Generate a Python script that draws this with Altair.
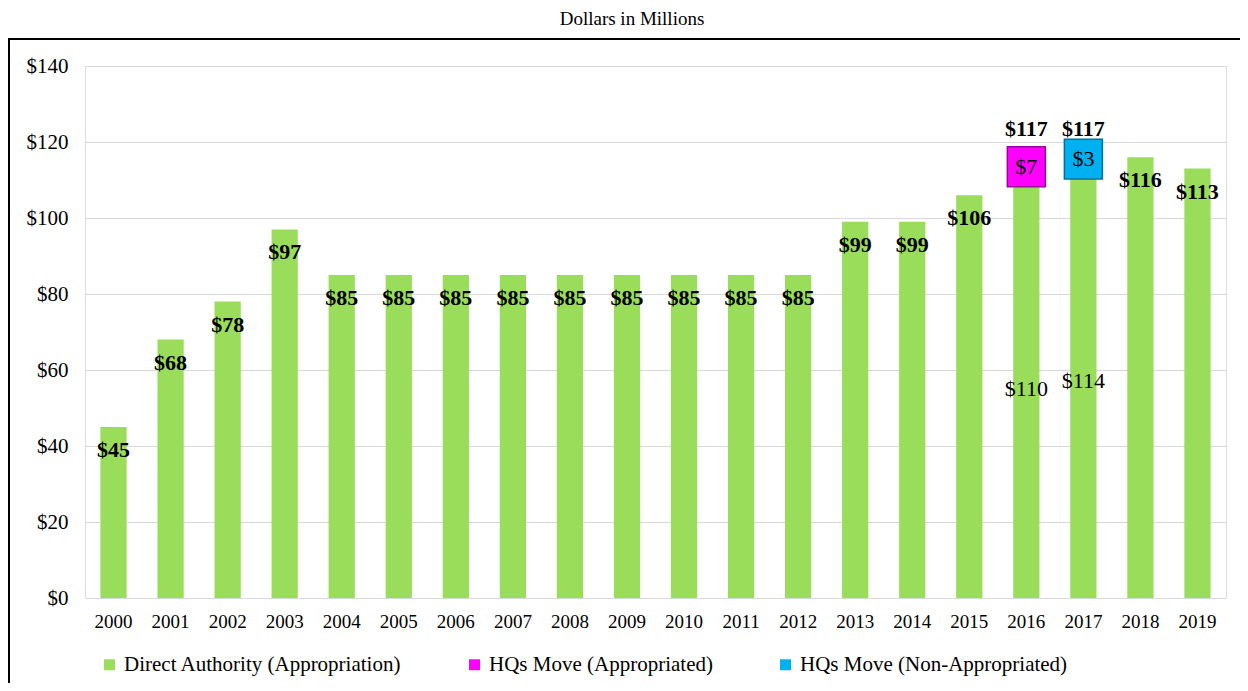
import altair as alt
import pandas as pd

years = [str(y) for y in range(2000, 2020)]
direct_authority = [45, 68, 78, 97, 85, 85, 85, 85, 85, 85, 85, 85, 85, 99, 99, 106, 110, 114, 116, 113]
hq_appropriated = [0] * 16 + [7, 0, 0, 0]
hq_non_appropriated = [0] * 17 + [3, 0, 0]

series_names = ["Direct Authority (Appropriation)", "HQs Move (Appropriated)", "HQs Move (Non-Appropriated)"]
series_colors = ["#9ADD5A", "#FF00FF", "#00B0F0"]
series_strokes = ["#9ADD5A", "#A000A0", "#00709A"]

rows = []
for i, y in enumerate(years):
    for k, vals in enumerate([direct_authority, hq_appropriated, hq_non_appropriated]):
        if vals[i] > 0:
            rows.append({"year": y, "series": series_names[k], "value": vals[i], "order": k,
                         "split": 1 if (hq_appropriated[i] + hq_non_appropriated[i]) > 0 else 0})
df = pd.DataFrame(rows)

totals = pd.DataFrame({
    "year": years,
    "total": [a + b + c for a, b, c in zip(direct_authority, hq_appropriated, hq_non_appropriated)],
    "split": [1 if (b + c) > 0 else 0 for b, c in zip(hq_appropriated, hq_non_appropriated)],
})

FONT = "Liberation Serif"

x_enc = alt.X("year:N", sort=years, title=None,
              scale=alt.Scale(paddingInner=0.54, paddingOuter=0.27),
              axis=alt.Axis(labelAngle=0, ticks=False, domain=False, labelPadding=14,
                            labelFontSize=19, labelFont=FONT, labelColor="black"))

stacked = alt.Chart(df).transform_stack(
    stack="value", groupby=["year"], as_=["v0", "v1"], sort=[alt.SortField("order")]
).transform_calculate(mid="(datum.v0 + datum.v1) / 2")

bars = stacked.mark_bar().encode(
    x=x_enc,
    y=alt.Y("v1:Q", title=None, scale=alt.Scale(domain=[0, 140]),
            axis=alt.Axis(values=[0, 20, 40, 60, 80, 100, 120, 140], labelExpr="'$' + datum.value",
                          ticks=False, domain=False, labelPadding=17, labelFontSize=21,
                          labelFont=FONT, labelColor="black", gridColor="#d9d9d9")),
    y2="v0:Q",
    color=alt.Color("series:N", sort=series_names,
                    scale=alt.Scale(domain=series_names, range=series_colors),
                    legend=alt.Legend(title=None, orient="none", direction="horizontal",
                                      legendX=14, legendY=588, symbolType="square", symbolSize=120,
                                      symbolStrokeWidth=0, labelFontSize=21, labelFont=FONT,
                                      labelColor="black", columnPadding=62, labelOffset=4,
                                      labelLimit=400)),
)

boxes = stacked.transform_filter("datum.order > 0").mark_point(
    shape="M-1,-1.05H1V1.05H-1Z", size=1444, filled=True, opacity=1, strokeWidth=1.5
).encode(
    x=alt.X("year:N", sort=years),
    y=alt.Y("mid:Q"),
    fill=alt.Fill("series:N", scale=alt.Scale(domain=series_names, range=series_colors), legend=None),
    stroke=alt.Stroke("series:N", scale=alt.Scale(domain=series_names, range=series_strokes), legend=None),
)

seg_labels = stacked.transform_filter("datum.split == 1").mark_text(
    font=FONT, fontSize=22, color="black", baseline="middle"
).encode(
    x=alt.X("year:N", sort=years),
    y=alt.Y("mid:Q"),
    text=alt.Text("value:Q", format="$d"),
)

total_regular = alt.Chart(totals).transform_filter("datum.split == 0").mark_text(
    font=FONT, fontSize=22, fontWeight="bold", color="black", baseline="middle", dy=23
).encode(
    x=alt.X("year:N", sort=years),
    y=alt.Y("total:Q"),
    text=alt.Text("total:Q", format="$d"),
)

total_split = alt.Chart(totals).transform_filter("datum.split == 1").mark_text(
    font=FONT, fontSize=22, fontWeight="bold", color="black", baseline="middle", dy=-24
).encode(
    x=alt.X("year:N", sort=years),
    y=alt.Y("total:Q"),
    text=alt.Text("total:Q", format="$d"),
)

frame = alt.Chart(pd.DataFrame({"k": [0]})).mark_rect(fill=None, stroke="black", strokeWidth=2).encode(
    x=alt.value(-76), x2=alt.value(1300), y=alt.value(-27), y2=alt.value(800)
)

title = alt.Chart(pd.DataFrame({"t": ["Dollars in Millions"]})).mark_text(
    font=FONT, fontSize=19, color="black", baseline="top", align="center"
).encode(x=alt.value(547), y=alt.value(-56), text="t:N")

chart = alt.layer(bars, boxes, seg_labels, total_regular, total_split, frame, title).resolve_scale(
    color="independent", fill="independent", stroke="independent"
).properties(
    width=1141, height=532,
    autosize=alt.AutoSizeParams(type="none"),
    padding={"left": 77, "top": 58, "right": 14, "bottom": 85},
).configure_view(stroke="#d9d9d9", strokeWidth=1.5).configure(background="white")

chart.save("out.html", embed_options={"renderer": "svg", "actions": False})
